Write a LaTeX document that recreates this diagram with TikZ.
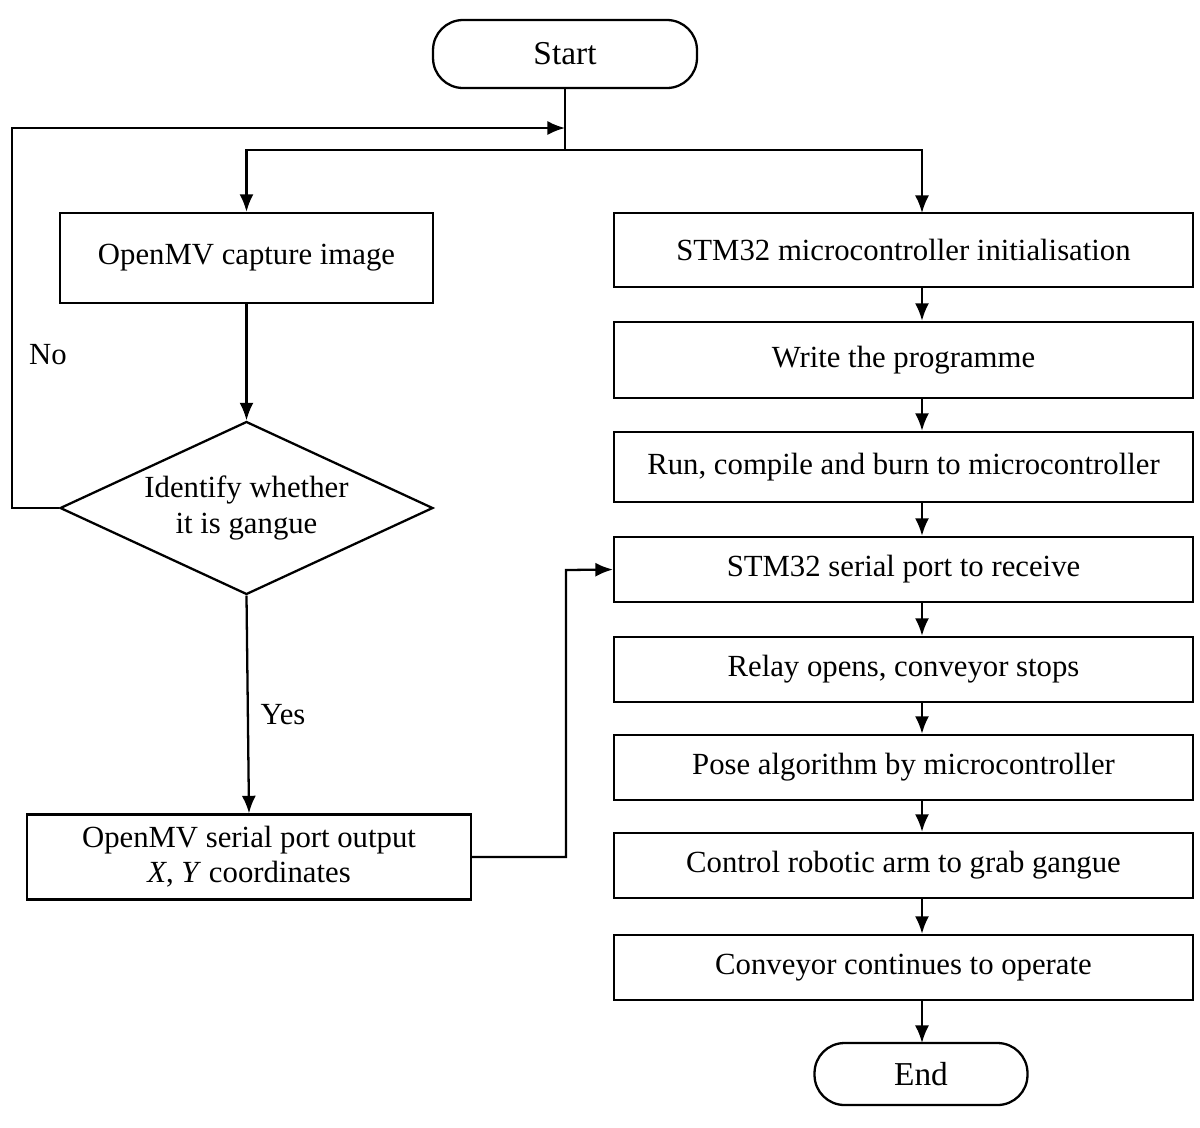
\documentclass[tikz,border=0pt]{standalone}
\usepackage{fontspec}
\setmainfont{Liberation Serif}
\usetikzlibrary{shapes.geometric,arrows.meta}
\begin{document}
\begin{tikzpicture}[x=0.02cm,y=-0.02cm,line width=1.3pt,
  box/.style={draw,minimum height=#1*0.02cm,inner sep=0pt,font=\fontsize{17.5}{20}\selectfont},
  pill/.style={draw,rounded corners=0.6cm,inner sep=0pt,font=\fontsize{19}{22}\selectfont},
  arr/.style={-{Latex[length=10pt,width=8pt]}}]
\useasboundingbox (0,0) rectangle (1200,1127);
\node[pill,minimum width=5.28cm,minimum height=1.36cm] (start) at (565,54) {Start};
\node[pill,minimum width=4.26cm,minimum height=1.24cm] (end) at (921,1074) {End};
\node[box=90,minimum width=7.46cm] (cap) at (246.5,258) {OpenMV capture image};
\node[draw,diamond,aspect=2.16,minimum width=7.46cm,minimum height=3.46cm,inner sep=0pt,align=center,font=\fontsize{17.5}{20}\selectfont] (dia) at (246.5,508) {Identify whether\\it is gangue};
\node[box=85,minimum width=8.88cm,align=center] (out) at (249,857) {OpenMV serial port output\\\textit{X}, \textit{Y} coordinates};
\node[box=74,minimum width=11.58cm] (r1) at (903.5,250) {STM32 microcontroller initialisation};
\node[box=76,minimum width=11.58cm] (r2) at (903.5,360) {Write the programme};
\node[box=70,minimum width=11.58cm] (r3) at (903.5,467) {Run, compile and burn to microcontroller};
\node[box=65,minimum width=11.58cm] (r4) at (903.5,569.5) {STM32 serial port to receive};
\node[box=65,minimum width=11.58cm] (r5) at (903.5,669.5) {Relay opens, conveyor stops};
\node[box=65,minimum width=11.58cm] (r6) at (903.5,767.5) {Pose algorithm by microcontroller};
\node[box=65,minimum width=11.58cm] (r7) at (903.5,865.5) {Control robotic arm to grab gangue};
\node[box=65,minimum width=11.58cm] (r8) at (903.5,967.5) {Conveyor continues to operate};
\coordinate (j) at (565,150);
\coordinate (m) at (565,128);
\draw (start.south) -- (j);
\draw[arr] (j) -| (cap.north);
\draw[arr] (j) -| (922,213);
\draw[arr] (dia.west) -- (12,508) -- (12,128) -- (m);
\draw[arr] (cap.south) -- (dia.north);
\draw[arr] (dia.south) -- (out.north);
\draw[arr] (out.east) -- (566,857) -- (566,570) -- (r4.west);
\foreach \a/\b in {r1/r2,r2/r3,r3/r4,r4/r5,r5/r6,r6/r7,r7/r8}
  \draw[arr] (\a.south -| 922,0) -- (\b.north -| 922,0);
\draw[arr] (r8.south -| 922,0) -- (922,1043);
\node[font=\fontsize{17.5}{20}\selectfont] (no) at (48,355) {No};
\node[font=\fontsize{17.5}{20}\selectfont] (yes) at (283,715) {Yes};
\end{tikzpicture}
\end{document}
